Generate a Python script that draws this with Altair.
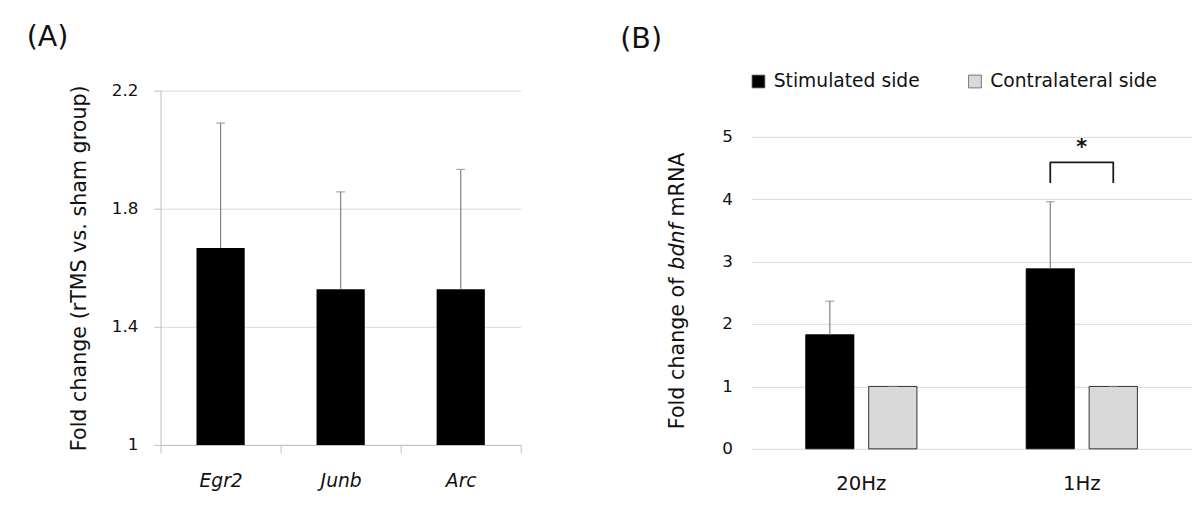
import altair as alt
import pandas as pd

FONT = "DejaVu Sans"
TEXT = "#111111"

# ---------------- Panel A data ----------------
genes = ["Egr2", "Junb", "Arc"]
gene_fold = [1.667, 1.527, 1.527]
gene_err = [0.423, 0.330, 0.406]
a_ticks = [1, 1.4, 1.8, 2.2]

# ---------------- Panel B data ----------------
freqs = ["20Hz", "1Hz"]
sides = ["Stimulated side", "Contralateral side"]
stim_fold = [1.83, 2.886]
stim_err = [0.536, 1.074]
contra_fold = [1.0, 1.0]
contra_err = [0.0, 0.0]
b_ticks = [0, 1, 2, 3, 4, 5]

sig_freq = "1Hz"
bracket_low = 4.26
bracket_high = 4.59
star_y = 4.72

# ---------------- tables ----------------
dfA = pd.DataFrame({"gene": genes, "fold": gene_fold, "err": gene_err})
dfA["upper"] = dfA["fold"] + dfA["err"]
dfA["base"] = 1.0

rows = []
for i, f in enumerate(freqs):
    rows.append({"freq": f, "side": sides[0], "fold": stim_fold[i], "upper": stim_fold[i] + stim_err[i]})
    rows.append({"freq": f, "side": sides[1], "fold": contra_fold[i], "upper": contra_fold[i] + contra_err[i]})
dfB = pd.DataFrame(rows)

dfBr = pd.DataFrame({
    "freq": [sig_freq] * 4,
    "side": [sides[0], sides[0], sides[1], sides[1]],
    "y": [bracket_low, bracket_high, bracket_high, bracket_low],
    "idx": [0, 1, 2, 3],
})
dfStar = pd.DataFrame({"freq": [sig_freq], "y": [star_y], "t": ["*"]})

# ---------------- Panel A ----------------
xA = alt.X("gene:N", sort=genes,
           scale=alt.Scale(domain=genes, paddingInner=0, paddingOuter=0),
           axis=alt.Axis(title=None, tickBand="extent", tickSize=8, tickColor="#bfbfbf",
                         domainColor="#bfbfbf", labelFontStyle="italic", labelFontSize=19,
                         labelPadding=19, labelAngle=0, grid=False, labelColor=TEXT,
                         labelFont=FONT))
yA_scale = alt.Scale(domain=[1, 2.2], zero=False, nice=False)
yA = alt.Y("fold:Q", scale=yA_scale,
           axis=alt.Axis(title="Fold change (rTMS vs. sham group)", values=a_ticks, format="~g",
                         tickSize=7, tickColor="#bfbfbf", domainColor="#bfbfbf",
                         gridColor="#d9d9d9", labelPadding=16, labelFontSize=17,
                         labelColor=TEXT, labelFont=FONT, titleFont=FONT, titleFontSize=21,
                         titleFontWeight="normal", titleColor=TEXT, titlePadding=22))

baseA = alt.Chart(dfA)
barsA = baseA.mark_bar(size=49, color="#000000").encode(x=xA, y=yA, y2="base:Q")
errA = baseA.mark_rule(color="#808080", strokeWidth=1.2).encode(
    x=alt.X("gene:N", sort=genes), y=alt.Y("fold:Q"), y2="upper:Q")
capA = baseA.mark_tick(color="#808080", size=9, thickness=1.2).encode(
    x=alt.X("gene:N", sort=genes), y=alt.Y("upper:Q"))
labA = alt.Chart(pd.DataFrame({"t": ["(A)"]})).mark_text(
    align="left", baseline="top", fontSize=29, font=FONT, color=TEXT).encode(
    x=alt.value(-136), y=alt.value(-68), text="t:N")

chartA = alt.layer(barsA, errA, capA, labA).properties(width=366, height=360)

# ---------------- Panel B ----------------
xB = alt.X("freq:N", sort=freqs,
           scale=alt.Scale(domain=freqs, range=[0, 448], paddingInner=0, paddingOuter=0),
           axis=alt.Axis(title=None, domain=False, ticks=False, labelPadding=25, labelFontSize=20,
                         labelAngle=0, grid=False, labelColor=TEXT, labelFont=FONT))
xoB = alt.XOffset("side:N", sort=sides,
                  scale=alt.Scale(domain=sides, paddingInner=0.234, paddingOuter=0.867))
yB = alt.Y("fold:Q", scale=alt.Scale(domain=[0, 5.741], nice=False),
           axis=alt.Axis(title=None, values=b_ticks, format="d", domain=False, ticks=False,
                         tickSize=0, labelPadding=19, labelFontSize=17, gridColor="#d9d9d9",
                         labelColor=TEXT, labelFont=FONT))

baseB = alt.Chart(dfB)
barsB = baseB.mark_bar(stroke="#000000", strokeWidth=0.8).encode(
    x=xB, xOffset=xoB, y=yB,
    color=alt.Color("side:N", sort=sides,
                    scale=alt.Scale(domain=sides, range=["#000000", "#d9d9d9"]),
                    legend=alt.Legend(title=None, orient="none", legendX=-2, legendY=-19,
                                      direction="horizontal", symbolType="square",
                                      symbolSize=169, labelFontSize=19, labelOffset=6,
                                      columnPadding=46, symbolStrokeColor="#595959",
                                      symbolStrokeWidth=0.8, labelLimit=400,
                                      labelColor=TEXT, labelFont=FONT)))
errB = baseB.mark_rule(color="#808080", strokeWidth=1.2).encode(
    x=alt.X("freq:N", sort=freqs), xOffset=alt.XOffset("side:N", sort=sides),
    y=alt.Y("fold:Q"), y2="upper:Q")
capB = baseB.mark_tick(color="#808080", size=9, thickness=1.2).encode(
    x=alt.X("freq:N", sort=freqs), xOffset=alt.XOffset("side:N", sort=sides),
    y=alt.Y("upper:Q"))
bracket = alt.Chart(dfBr).mark_line(color="#1a1a1a", strokeWidth=1.8, strokeJoin="round").encode(
    x=alt.X("freq:N", sort=freqs), xOffset=alt.XOffset("side:N", sort=sides),
    y=alt.Y("y:Q"), order="idx:Q")
star = alt.Chart(dfStar).mark_text(fontSize=21, fontWeight="bold", font=FONT, color=TEXT,
                                   baseline="alphabetic").encode(
    x=alt.X("freq:N", sort=freqs), y=alt.Y("y:Q"), text="t:N")

labB = alt.Chart(pd.DataFrame({"t": ["(B)"]})).mark_text(
    align="left", baseline="top", fontSize=29, font=FONT, color=TEXT).encode(
    x=alt.value(-133), y=alt.value(-66), text="t:N")

t1 = alt.Chart(pd.DataFrame({"t": ["Fold change of"]})).mark_text(
    align="left", baseline="alphabetic", angle=270, fontSize=21, font=FONT, color=TEXT).encode(
    x=alt.value(-68), y=alt.value(344), text="t:N")
t2 = alt.Chart(pd.DataFrame({"t": ["bdnf"]})).mark_text(
    align="left", baseline="alphabetic", angle=270, fontSize=21, font=FONT, color=TEXT,
    fontStyle="italic").encode(
    x=alt.value(-68), y=alt.value(182), text="t:N")
t3 = alt.Chart(pd.DataFrame({"t": ["mRNA"]})).mark_text(
    align="left", baseline="alphabetic", angle=270, fontSize=21, font=FONT, color=TEXT).encode(
    x=alt.value(-68), y=alt.value(128), text="t:N")

chartB = alt.layer(barsB, errB, capB, bracket, star, labB, t1, t2, t3).properties(
    width=440, height=364)

chart = alt.hconcat(chartA, chartB, spacing=100).resolve_legend(color="independent").properties(
    padding={"left": 19, "top": 12, "right": 0, "bottom": 0}
).configure(font=FONT).configure_view(strokeWidth=0, stroke="transparent")

chart.save("out.html", embed_options={"renderer": "svg", "actions": False})
